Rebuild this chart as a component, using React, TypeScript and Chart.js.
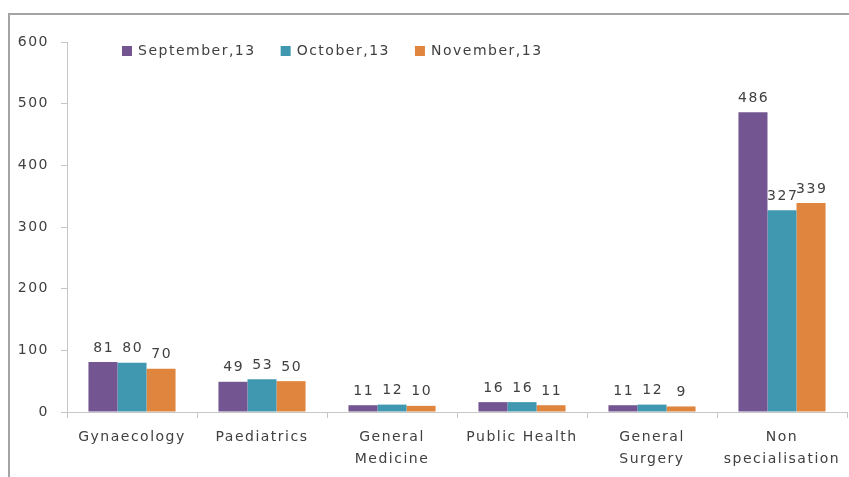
import React, { useEffect, useRef } from 'react';
import { Chart, registerables } from 'chart.js';

Chart.register(...registerables);

const categories: string[][] = [
  ['Gynaecology'],
  ['Paediatrics'],
  ['General', 'Medicine'],
  ['Public Health'],
  ['General', 'Surgery'],
  ['Non', 'specialisation'],
];
const seriesNames = ['September,13', 'October,13', 'November,13'];
const september = [81, 49, 11, 16, 11, 486];
const october = [80, 53, 12, 16, 12, 327];
const november = [70, 50, 10, 11, 9, 339];
const seriesColors = ['#735691', '#4098B0', '#DF853D'];
const yMin = 0;
const yMax = 600;
const yStep = 100;

const FONT = '"DejaVu Sans", sans-serif';
const TEXT = '#404040';
const AXIS = '#c6c6c6';
const LS = '1.5px';

const spacing = {
  id: 'spacing',
  beforeLayout(chart: any) {
    chart.ctx.letterSpacing = LS;
  },
  beforeDraw(chart: any) {
    chart.ctx.letterSpacing = LS;
  },
};

const valueLabels = {
  id: 'valueLabels',
  afterDatasetsDraw(chart: any) {
    const ctx = chart.ctx;
    ctx.save();
    ctx.letterSpacing = LS;
    ctx.font = `14px ${FONT}`;
    ctx.fillStyle = TEXT;
    ctx.textAlign = 'center';
    ctx.textBaseline = 'middle';
    chart.data.datasets.forEach((ds: any, i: number) => {
      const meta = chart.getDatasetMeta(i);
      meta.data.forEach((bar: any, j: number) => {
        ctx.fillText(String(ds.data[j]), bar.x + 0.7, bar.y - 14);
      });
    });
    ctx.restore();
  },
};

const innerLegend = {
  id: 'innerLegend',
  afterDraw(chart: any) {
    const ctx = chart.ctx;
    ctx.save();
    ctx.letterSpacing = LS;
    ctx.font = `14px ${FONT}`;
    ctx.textBaseline = 'middle';
    ctx.textAlign = 'left';
    let x = 112;
    const cy = 36;
    chart.data.datasets.forEach((ds: any) => {
      ctx.fillStyle = ds.backgroundColor;
      ctx.fillRect(x, cy - 5, 10, 10);
      ctx.fillStyle = TEXT;
      ctx.fillText(ds.label, x + 16, cy);
      const w = ctx.measureText(ds.label).width;
      x += 16 + w + 25;
    });
    ctx.restore();
  },
};

export default function App() {
  const ref = useRef<HTMLCanvasElement | null>(null);

  useEffect(() => {
    if (!ref.current) return;
    const data = [september, october, november];
    const chart = new Chart(ref.current, {
      type: 'bar',
      data: {
        labels: categories,
        datasets: seriesNames.map((name, i) => ({
          label: name,
          data: data[i],
          backgroundColor: seriesColors[i],
          borderWidth: 0,
          categoryPercentage: 0.67,
          barPercentage: 1,
        })),
      },
      options: {
        animation: false,
        responsive: true,
        maintainAspectRatio: false,
        layout: { padding: { top: 27, left: 0, right: 2, bottom: 0 } },
        plugins: {
          legend: { display: false },
          tooltip: { enabled: false },
        },
        scales: {
          x: {
            grid: {
              display: true,
              drawOnChartArea: false,
              drawTicks: true,
              tickLength: 6,
              color: AXIS,
              offset: true,
            },
            border: { display: true, color: AXIS, width: 1 },
            ticks: {
              color: TEXT,
              font: { family: FONT, size: 14, lineHeight: 22 / 14 },
              padding: 8,
              maxRotation: 0,
              autoSkip: false,
            },
            afterFit: (s: any) => {
              s.height = 65;
            },
          },
          y: {
            min: yMin,
            max: yMax,
            grid: {
              display: true,
              drawOnChartArea: false,
              drawTicks: true,
              tickLength: 6,
              color: AXIS,
            },
            border: { display: true, color: AXIS, width: 1 },
            ticks: {
              stepSize: yStep,
              color: TEXT,
              font: { family: FONT, size: 14 },
              padding: 12,
            },
            afterFit: (s: any) => {
              s.width = 57;
            },
          },
        },
      },
      plugins: [spacing, valueLabels, innerLegend],
    });
    return () => chart.destroy();
  }, []);

  return (
    <div
      style={{
        position: 'fixed',
        left: 8,
        top: 13,
        width: 841,
        height: 464,
        boxSizing: 'border-box',
        borderTop: '2px solid #a4a4a4',
        borderLeft: '2px solid #a4a4a4',
        background: '#fff',
      }}
    >
      <div style={{ position: 'relative', width: 839, height: 462 }}>
        <canvas ref={ref} />
      </div>
    </div>
  );
}
